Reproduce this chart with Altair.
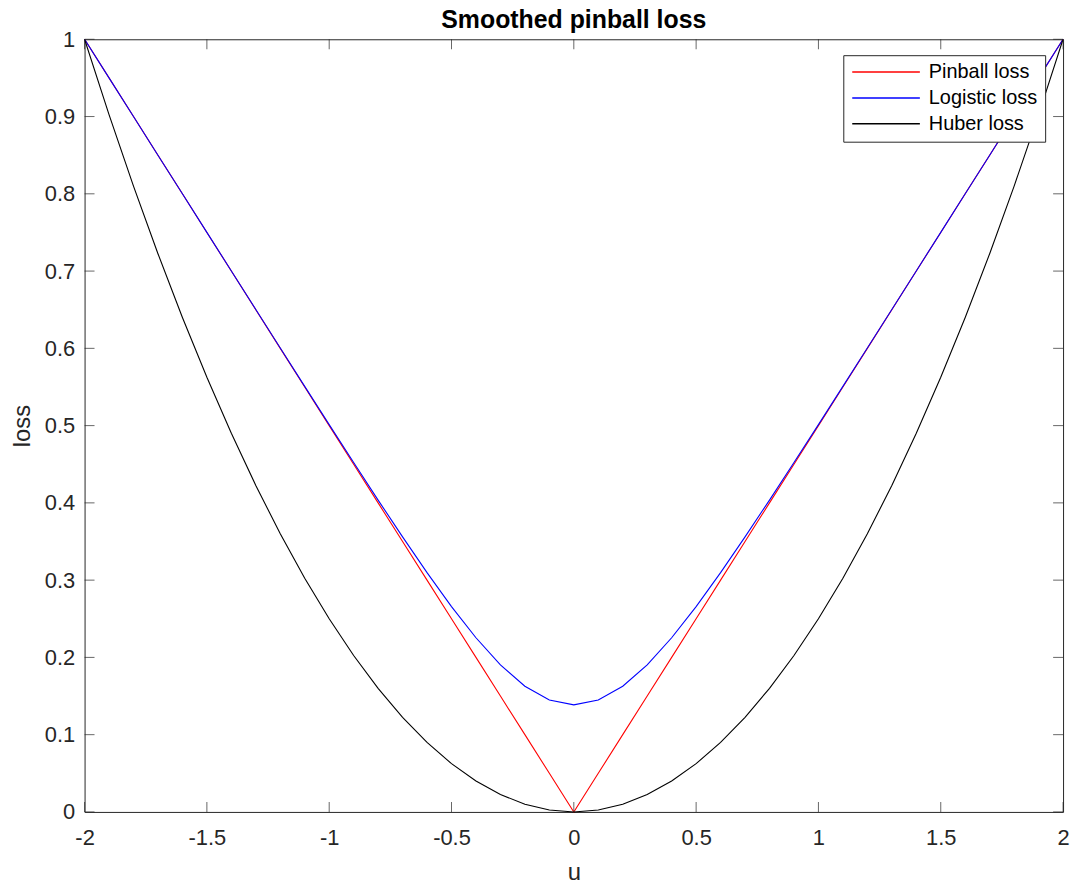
import altair as alt
import pandas as pd

# u values (step 0.1)
u = [-2.0, -1.9, -1.8, -1.7, -1.6, -1.5, -1.4, -1.3, -1.2, -1.1, -1.0,
     -0.9, -0.8, -0.7, -0.6, -0.5, -0.4, -0.3, -0.2, -0.1, 0.0,
     0.1, 0.2, 0.3, 0.4, 0.5, 0.6, 0.7, 0.8, 0.9, 1.0,
     1.1, 1.2, 1.3, 1.4, 1.5, 1.6, 1.7, 1.8, 1.9, 2.0]

pinball = [1.0, 0.95, 0.9, 0.85, 0.8, 0.75, 0.7, 0.65, 0.6, 0.55, 0.5,
           0.45, 0.4, 0.35, 0.3, 0.25, 0.2, 0.15, 0.1, 0.05, 0.0,
           0.05, 0.1, 0.15, 0.2, 0.25, 0.3, 0.35, 0.4, 0.45, 0.5,
           0.55, 0.6, 0.65, 0.7, 0.75, 0.8, 0.85, 0.9, 0.95, 1.0]

logistic = [1.0, 0.95, 0.9, 0.85, 0.8001, 0.7501, 0.7002, 0.6503, 0.6005, 0.5508, 0.5013,
            0.4522, 0.4036, 0.356, 0.3097, 0.2658, 0.2254, 0.1903, 0.1627, 0.1448, 0.1386,
            0.1448, 0.1627, 0.1903, 0.2254, 0.2658, 0.3097, 0.356, 0.4036, 0.4522, 0.5013,
            0.5508, 0.6005, 0.6503, 0.7002, 0.7501, 0.8001, 0.85, 0.9, 0.95, 1.0]

huber = [1.0, 0.9025, 0.81, 0.7225, 0.64, 0.5625, 0.49, 0.4225, 0.36, 0.3025, 0.25,
         0.2025, 0.16, 0.1225, 0.09, 0.0625, 0.04, 0.0225, 0.01, 0.0025, 0.0,
         0.0025, 0.01, 0.0225, 0.04, 0.0625, 0.09, 0.1225, 0.16, 0.2025, 0.25,
         0.3025, 0.36, 0.4225, 0.49, 0.5625, 0.64, 0.7225, 0.81, 0.9025, 1.0]

series_names = ["Pinball loss", "Logistic loss", "Huber loss"]
series_colors = ["#ff0000", "#0000ff", "#000000"]

x_ticks = [-2, -1.5, -1, -0.5, 0, 0.5, 1, 1.5, 2]
y_ticks = [0, 0.1, 0.2, 0.3, 0.4, 0.5, 0.6, 0.7, 0.8, 0.9, 1]

rows = []
for order, (name, vals) in enumerate(zip(series_names, [pinball, logistic, huber])):
    for xv, yv in zip(u, vals):
        rows.append({"u": xv, "loss": yv, "series": name, "order": order})
df = pd.DataFrame(rows)

FONT = "Liberation Sans"
AX = "#262626"
W, H = 984, 777

xscale = alt.Scale(domain=[-2, 2], nice=False, zero=False)
yscale = alt.Scale(domain=[0, 1], nice=False, zero=False)

xaxis = alt.Axis(values=x_ticks, title="u", ticks=False, tickSize=0, domain=False,
                 grid=False, labelExpr="toString(datum.value)", labelFlush=False,
                 labelFontSize=22, labelColor=AX, labelPadding=16,
                 labelFont=FONT, titleFont=FONT, titleFontSize=24,
                 titleFontWeight="normal", titleColor=AX, titlePadding=12)
yaxis = alt.Axis(values=y_ticks, title="loss", ticks=False, tickSize=0, domain=False,
                 grid=False, labelExpr="toString(datum.value)", labelFlush=False,
                 labelFontSize=22, labelColor=AX, labelPadding=10,
                 labelFont=FONT, titleFont=FONT, titleFontSize=24,
                 titleFontWeight="normal", titleColor=AX, titlePadding=10)

lines = alt.Chart(df).mark_line(strokeWidth=1.1).encode(
    x=alt.X("u:Q", scale=xscale, axis=xaxis),
    y=alt.Y("loss:Q", scale=yscale, axis=yaxis),
    color=alt.Color("series:N",
                    scale=alt.Scale(domain=series_names, range=series_colors),
                    legend=alt.Legend(title=None, orient="none", legendX=763, legendY=16,
                                      symbolType="M-1,0H1", symbolSize=4624,
                                      symbolStrokeWidth=1.5, labelFontSize=20,
                                      labelFont=FONT, labelColor="#000000",
                                      labelOffset=8, rowPadding=6, clipHeight=18,
                                      padding=8, strokeColor=AX, fillColor="#ffffff",
                                      cornerRadius=0)),
    order=alt.Order("order:Q"),
    detail="series:N",
)

xt = pd.DataFrame({"u": x_ticks})
yt = pd.DataFrame({"loss": y_ticks})

tick_bottom = alt.Chart(xt).mark_tick(orient="vertical", size=10, thickness=1, color=AX, yOffset=-5).encode(
    x=alt.X("u:Q", scale=xscale, axis=xaxis), y=alt.datum(0, scale=yscale, axis=yaxis))
tick_top = alt.Chart(xt).mark_tick(orient="vertical", size=10, thickness=1, color=AX, yOffset=5).encode(
    x=alt.X("u:Q", scale=xscale, axis=xaxis), y=alt.datum(1, scale=yscale, axis=yaxis))
tick_left = alt.Chart(yt).mark_tick(orient="horizontal", size=10, thickness=1, color=AX, xOffset=5).encode(
    y=alt.Y("loss:Q", scale=yscale, axis=yaxis), x=alt.datum(-2, scale=xscale, axis=xaxis))
tick_right = alt.Chart(yt).mark_tick(orient="horizontal", size=10, thickness=1, color=AX, xOffset=-5).encode(
    y=alt.Y("loss:Q", scale=yscale, axis=yaxis), x=alt.datum(2, scale=xscale, axis=xaxis))

chart = alt.layer(lines, tick_bottom, tick_top, tick_left, tick_right).properties(
    width=W, height=H,
    background="#ffffff",
    title=alt.TitleParams("Smoothed pinball loss", font=FONT, fontSize=25, fontWeight="bold",
                          color="#000000", anchor="middle", offset=0, dy=5,
                          frame="group"),
    autosize=alt.AutoSizeParams(type="none"),
    padding={"left": 77, "top": 29, "right": 10, "bottom": 66},
).configure_view(stroke=AX, strokeWidth=1)

chart.save("out.html", embed_options={"renderer": "svg", "actions": False})
